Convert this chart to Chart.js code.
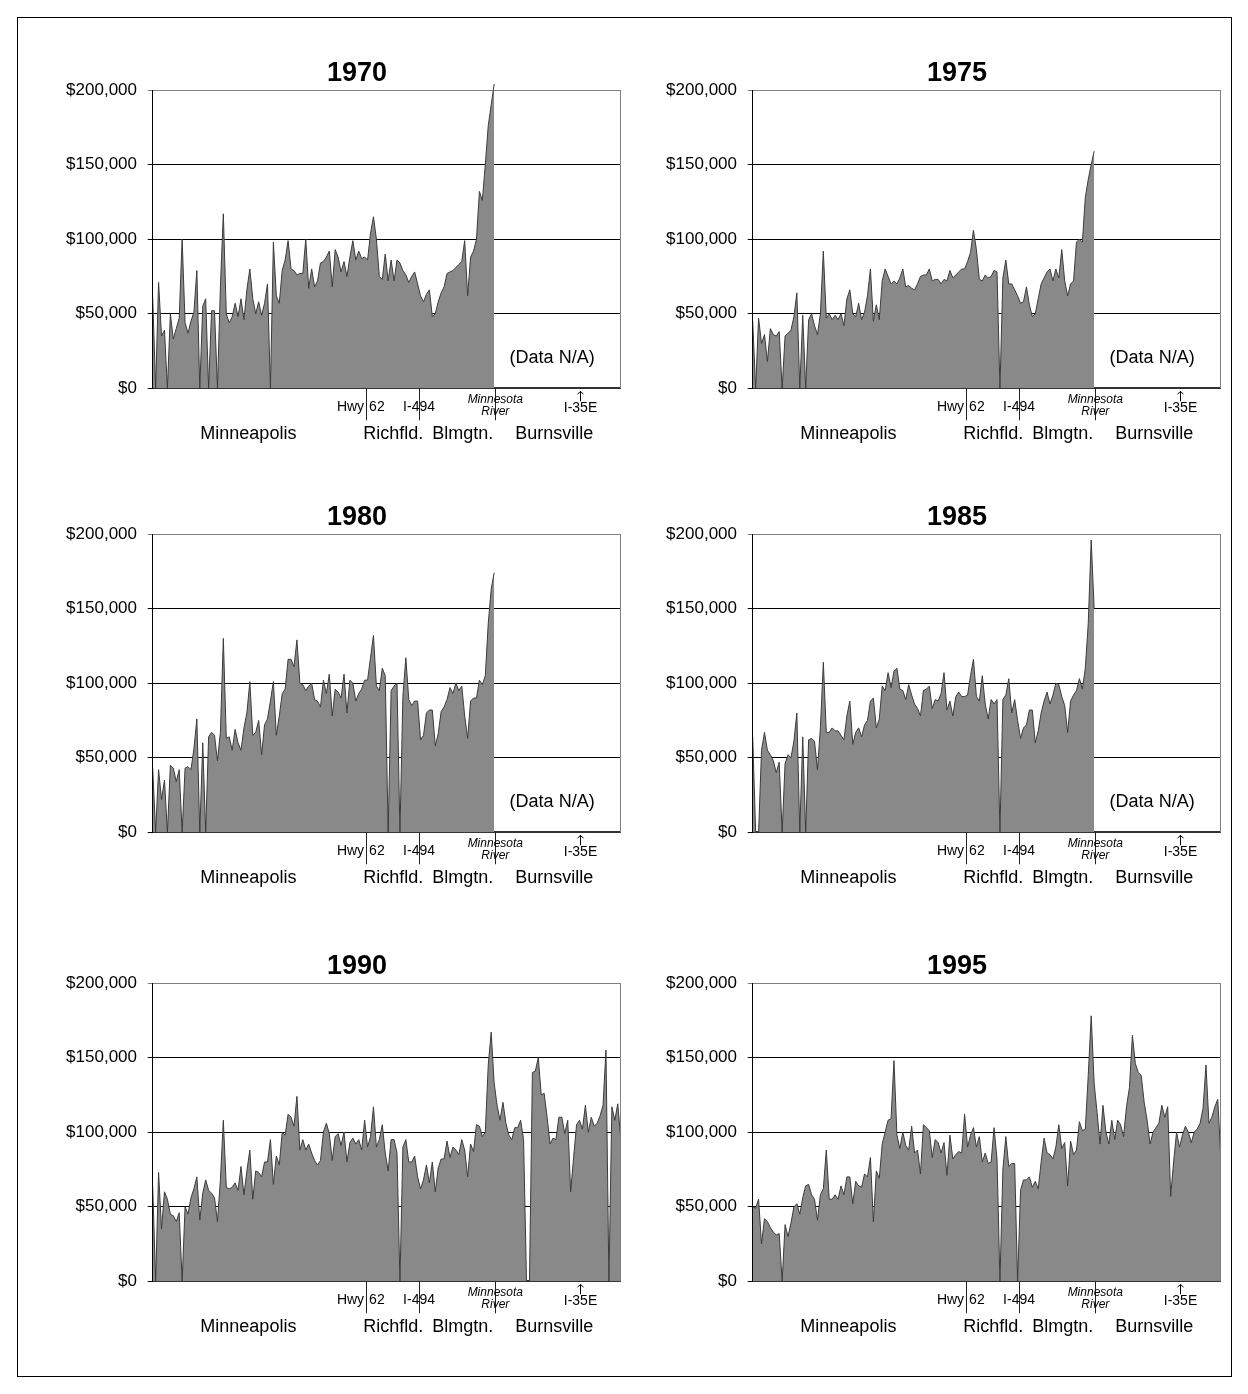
<!DOCTYPE html>
<html>
<head>
<meta charset="utf-8">
<script src="https://cdn.jsdelivr.net/npm/chart.js@4.4.0/dist/chart.umd.min.js"></script>
<style>
  body { margin: 0; background: #fff; overflow: hidden; }
  #page { position: relative; width: 1248px; height: 1394px; overflow: hidden; }
  #frame { position: absolute; left: 17px; top: 17px; width: 1213px; height: 1358px; border: 1px solid #000; }
  canvas { position: absolute; }
</style>
</head>
<body>
<div id="page">
  <div id="frame"></div>
  <canvas id="c1970" width="634" height="406" style="left:40px;top:44px"></canvas>
  <canvas id="c1975" width="634" height="406" style="left:640px;top:44px"></canvas>
  <canvas id="c1980" width="634" height="406" style="left:40px;top:488px"></canvas>
  <canvas id="c1985" width="634" height="406" style="left:640px;top:488px"></canvas>
  <canvas id="c1990" width="634" height="406" style="left:40px;top:937px"></canvas>
  <canvas id="c1995" width="634" height="406" style="left:640px;top:937px"></canvas>
</div>
<script>
// median home value along the corridor, in thousands of dollars, one value per block
// (blocks 0..159 run south from Minneapolis to Burnsville; before 1990 data stops at the river)
const years = ['1970', '1975', '1980', '1985', '1990', '1995'];

const v1970 = [61,0,71,35,39,0,50,33,40,47, 100,44,37,45,51,79,0,55,60,0,
  52,52,0,68,117,50,44,48,57,48, 60,46,66,80,60,50,58,49,57,70,
  0,98,62,57,79,86,99,80,79,76, 77,77,100,67,80,68,72,84,85,88,
  92,68,93,88,78,85,75,88,99,86, 92,87,88,86,104,115,100,75,73,90,
  72,86,72,86,84,79,76,71,75,78, 70,62,58,63,66,48,50,58,64,68,
  77,78,79,81,83,85,99,62,88,92, 100,132,126,150,176,190,204];

const v1975 = [45,0,47,30,36,18,40,36,35,38, 0,35,37,39,48,64,0,49,0,46,
  50,42,36,50,92,47,50,46,49,46, 50,42,60,66,50,48,57,46,51,62,
  80,45,56,46,72,80,75,70,72,70, 74,80,68,69,67,66,70,75,76,76,
  80,72,73,73,70,73,72,79,74,76, 78,80,80,85,91,106,93,73,72,76,
  74,75,79,78,0,74,86,70,70,66, 62,57,58,68,56,48,50,60,70,74,
  78,80,72,80,74,93,72,62,70,72, 98,100,98,128,140,150,159];

const v1980 = [43,0,42,22,35,0,45,43,34,42, 0,43,44,42,56,76,0,60,0,64,
  67,65,48,67,130,63,64,55,69,60, 55,70,80,101,65,67,75,52,72,76,
  88,101,65,78,93,96,116,116,111,129, 100,99,95,98,100,89,88,84,102,93,
  106,78,96,94,90,106,80,102,100,88, 93,96,102,102,117,132,98,95,110,105,
  0,95,98,100,0,91,117,89,85,88, 88,62,65,80,82,82,58,66,81,84,
  89,97,93,100,95,98,78,63,88,90, 90,102,99,105,140,163,174];

const v1985 = [64,0,0,55,67,55,52,48,40,47, 0,46,52,50,61,80,0,64,0,62,
  63,61,42,70,114,67,67,70,68,68, 65,62,78,88,59,67,70,64,72,75,
  88,90,70,76,98,95,107,97,108,110, 96,95,89,99,92,86,83,78,95,96,
  98,83,89,88,93,107,82,88,78,91, 94,91,91,92,105,116,91,88,105,86,
  76,89,86,89,0,89,92,103,80,89, 75,63,70,72,82,82,60,68,80,88,
  94,86,92,100,99,91,85,67,88,92, 95,103,96,110,140,196,150];

const v1990 = [64,0,73,35,60,55,45,44,40,46, 0,50,45,56,62,70,41,59,68,61,
  59,56,40,68,108,63,62,63,66,61, 77,58,74,88,55,74,73,70,80,80,
  95,65,84,78,100,98,112,110,104,124, 88,95,88,92,86,81,78,81,100,106,
  99,81,97,99,91,100,80,93,96,92, 95,88,108,90,97,117,90,95,105,86,
  74,95,95,86,0,90,95,80,80,84, 70,62,68,78,66,80,60,76,82,82,
  94,83,90,88,85,95,88,70,92,87, 105,104,97,100,145,167,133,118,108,120,
  106,98,95,103,103,108,95,0,0,140, 141,150,125,126,110,92,96,95,110,110,
  99,108,60,83,105,108,102,118,100,110, 104,106,111,118,155,0,117,108,119,96];

const v1995 = [50,49,55,25,42,40,36,33,31,32, 0,38,30,39,50,52,45,56,64,65,
  58,55,41,58,62,88,55,55,58,55, 64,58,70,70,52,67,64,63,72,70,
  83,40,74,69,92,100,108,109,148,98, 89,100,91,88,104,86,88,72,105,103,
  101,83,95,93,86,93,71,98,82,85, 87,86,112,90,98,103,90,97,80,86,
  79,80,103,82,0,75,97,77,79,79, 0,61,68,68,70,63,67,62,80,96,
  86,85,82,90,105,89,93,64,94,85, 88,107,101,102,138,178,133,113,92,118,
  100,92,108,95,108,105,97,117,130,165, 146,140,138,120,108,92,100,103,106,118,
  110,117,57,80,100,90,98,104,100,93, 100,102,106,116,145,106,110,117,122,84];

const series = [v1970, v1975, v1980, v1985, v1990, v1995];
const routeBlocks = 160;
const yTicks = [0, 50, 100, 150, 200];

// landmarks along the route, in block units
const crossings = ['Hwy 62', 'I-494', 'Minnesota River'];
const crossingPos = [72.5, 90.5, 116.4];
const arrowLabel = 'I-35E';
const arrowPos = 145.2;
const cityNames = ['Minneapolis', 'Richfld.', 'Blmgtn.', 'Burnsville'];
const cityPos = [32.5, 81.7, 105.3, 136.4];
const naText = '(Data N/A)';
const naPos = [135.7, 20];

const FONT = '"Liberation Sans", Arial, sans-serif';

const landmarks = {
  id: 'landmarks',
  afterDraw(chart, args, opts) {
    const { ctx, chartArea, scales } = chart;
    const x = scales.x, y = scales.y;
    const base = chartArea.bottom;
    ctx.save();

    // right side of plot frame
    ctx.strokeStyle = '#808080';
    ctx.lineWidth = 1;
    ctx.beginPath();
    ctx.moveTo(Math.round(chartArea.right) - 0.5, chartArea.top);
    ctx.lineTo(Math.round(chartArea.right) - 0.5, base);
    ctx.stroke();

    // crossing ticks
    ctx.strokeStyle = '#222';
    crossingPos.forEach(p => {
      const px = Math.round(x.getPixelForValue(p)) + 0.5;
      ctx.beginPath();
      ctx.moveTo(px, base);
      ctx.lineTo(px, base + 32);
      ctx.stroke();
    });

    ctx.fillStyle = '#000';
    ctx.textBaseline = 'middle';
    ctx.font = '14px ' + FONT;
    const hx = x.getPixelForValue(crossingPos[0]);
    const parts = crossings[0].split(' ');
    ctx.textAlign = 'right';
    ctx.fillText(parts[0], hx - 2, base + 19);
    ctx.textAlign = 'left';
    ctx.fillText(parts[1], hx + 3, base + 19);
    ctx.textAlign = 'center';
    ctx.fillText(crossings[1], x.getPixelForValue(crossingPos[1]), base + 19);

    const rx = x.getPixelForValue(crossingPos[2]);
    const river = crossings[2].split(' ');
    ctx.font = 'italic 12px ' + FONT;
    ctx.fillText(river[0], rx, base + 11);
    ctx.fillText(river[1], rx, base + 23);

    // I-35E arrow
    const ax = Math.round(x.getPixelForValue(arrowPos)) + 0.5;
    ctx.strokeStyle = '#000';
    ctx.beginPath();
    ctx.moveTo(ax, base + 3);
    ctx.lineTo(ax, base + 13);
    ctx.moveTo(ax - 3, base + 6);
    ctx.lineTo(ax, base + 3);
    ctx.lineTo(ax + 3, base + 6);
    ctx.stroke();
    ctx.font = '14px ' + FONT;
    ctx.fillText(arrowLabel, ax, base + 20);

    ctx.font = '18px ' + FONT;
    cityNames.forEach((c, i) => ctx.fillText(c, x.getPixelForValue(cityPos[i]), base + 46));

    if (opts.na) {
      ctx.fillText(naText, x.getPixelForValue(naPos[0]), y.getPixelForValue(naPos[1]));
    }
    ctx.restore();
  }
};

function drawYear(year, values) {
  new Chart(document.getElementById('c' + year), {
    type: 'line',
    data: {
      datasets: [{
        data: values.map((v, i) => ({ x: i, y: v })),
        fill: 'origin',
        backgroundColor: '#898989',
        borderColor: '#3c3c3c',
        borderWidth: 1,
        pointRadius: 0,
        tension: 0,
        clip: { left: 0, right: 0, bottom: 0, top: 12 }
      }]
    },
    options: {
      responsive: false,
      animation: false,
      devicePixelRatio: 1,
      layout: { padding: 0 },
      plugins: {
        legend: { display: false },
        tooltip: { enabled: false },
        title: {
          display: true,
          text: year,
          color: '#000',
          font: { family: FONT, size: 27, weight: 'bold', lineHeight: 1.2 },
          padding: { top: 13, bottom: 0.6 }
        },
        landmarks: { na: values.length < routeBlocks }
      },
      scales: {
        x: {
          type: 'linear',
          min: 0,
          max: routeBlocks - 1,
          ticks: { display: false },
          grid: { display: false },
          border: { display: true, color: '#333', width: 2 },
          afterFit: s => { s.height = 61.7; }
        },
        y: {
          min: 0,
          max: 200,
          afterBuildTicks: s => { s.ticks = yTicks.map(v => ({ value: v })); },
          ticks: {
            color: '#000',
            padding: 10.7,
            font: { family: FONT, size: 17 },
            callback: v => '$' + (v * 1000).toLocaleString('en-US')
          },
          grid: {
            color: c => (c.tick && c.tick.value === 200 ? '#808080' : '#000'),
            lineWidth: 1,
            tickLength: 5
          },
          border: { display: true, color: '#000', width: 1 },
          afterFit: s => { s.width = 112.7; }
        },
        // empty right-hand margin so the title stays centred on the whole panel
        margin: {
          type: 'linear',
          position: 'right',
          ticks: { display: false },
          grid: { display: false },
          border: { display: false },
          afterFit: s => { s.width = 53.3; }
        }
      }
    },
    plugins: [landmarks]
  });
}

years.forEach((yr, i) => drawYear(yr, series[i]));
</script>
</body>
</html>
